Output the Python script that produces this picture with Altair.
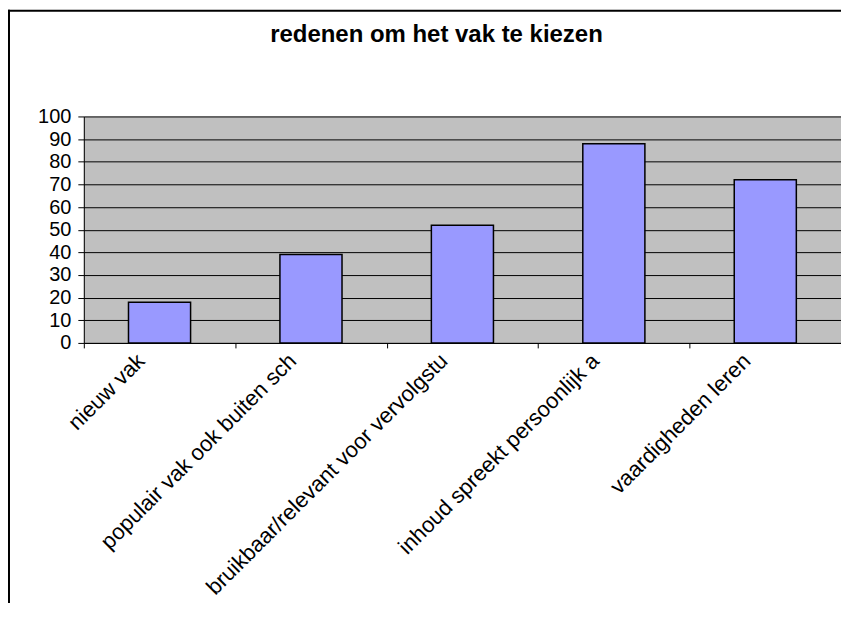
import altair as alt
import pandas as pd

categories = [
    "nieuw vak",
    "populair vak ook buiten sch",
    "bruikbaar/relevant voor vervolgstu",
    "inhoud spreekt persoonlijk a",
    "vaardigheden leren",
]
values = [18, 39, 52, 88, 72]
y_ticks = [0, 10, 20, 30, 40, 50, 60, 70, 80, 90, 100]
title_text = "redenen om het vak te kiezen"

df = pd.DataFrame({"reden": categories, "waarde": values})
FONT = "Liberation Sans"

bars = alt.Chart(df).mark_bar(
    color="#9999FF", stroke="black", strokeWidth=1.5,
    width=alt.RelativeBandSize(0.41)
).encode(
    x=alt.X(
        "reden:N", sort=categories, title=None,
        scale=alt.Scale(paddingInner=0, paddingOuter=0),
        axis=alt.Axis(
            labelAngle=-45, labelAlign="right", labelBaseline="top",
            labelOffset=-26, labelPadding=2, labelOverlap=False, labelLimit=0,
            tickBand="extent", ticks=True, tickSize=5, tickColor="black",
            domainColor="black", domainWidth=1, grid=False,
            labelFont=FONT, labelFontSize=22, labelColor="black",
        ),
    ),
    y=alt.Y(
        "waarde:Q", title=None,
        scale=alt.Scale(domain=[0, 100], nice=False),
        axis=alt.Axis(
            values=y_ticks, grid=True, gridColor="black", gridOpacity=1, gridWidth=1,
            tickSize=6, tickColor="black", domainColor="black", domainWidth=1,
            labelPadding=7, labelFont=FONT, labelFontSize=20, labelColor="black",
        ),
    ),
)

frame_df = pd.DataFrame({"k": [0]})
frame_top = alt.Chart(frame_df).mark_rule(color="black", strokeWidth=2).encode(
    x=alt.value(-76), x2=alt.value(1000), y=alt.value(-106)
)
frame_left = alt.Chart(frame_df).mark_rule(color="black", strokeWidth=2).encode(
    x=alt.value(-75), y=alt.value(-107), y2=alt.value(1000)
)

chart = alt.layer(bars, frame_top, frame_left).properties(
    width=759,
    height=227,
    padding={"left": 76, "top": 108, "right": 0, "bottom": 260},
    autosize=alt.AutoSizeParams(type="none"),
    background="white",
    title=alt.Title(
        title_text, font=FONT, fontSize=24, fontWeight="bold", color="black",
        frame="group", anchor="middle", dx=-26, offset=-57, baseline="alphabetic",
    ),
).configure_view(
    fill="#C0C0C0", stroke=None
)

chart.save("out.html", embed_options={"renderer": "svg", "actions": False})
